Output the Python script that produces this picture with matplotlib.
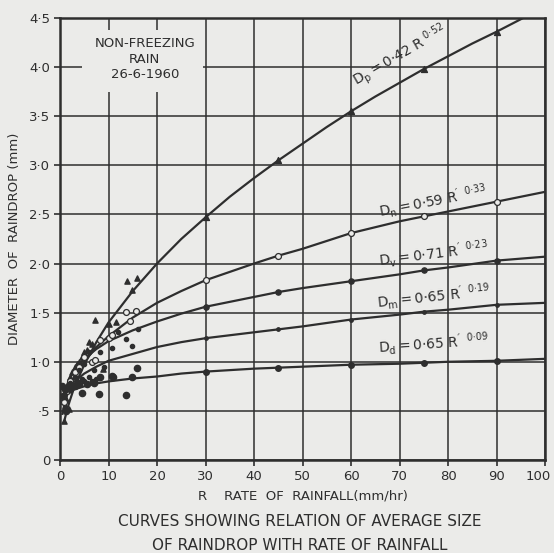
import matplotlib
matplotlib.use("Agg")
import matplotlib.pyplot as plt
from matplotlib.patches import Rectangle
from matplotlib.transforms import offset_copy

# ---------------- data ----------------
r_grid = [0.5, 1, 2, 3, 5, 7.5, 10, 15, 20, 25, 30, 40, 45, 50, 60, 70, 75, 80, 90, 100]
dn_curve = [0.47, 0.59, 0.74, 0.85, 1.00, 1.15, 1.26, 1.45, 1.60, 1.72, 1.83, 2.00, 2.08, 2.15, 2.31, 2.43, 2.48, 2.53, 2.63, 2.73]
dv_curve = [0.60, 0.71, 0.83, 0.92, 1.03, 1.13, 1.21, 1.32, 1.41, 1.49, 1.56, 1.66, 1.71, 1.75, 1.82, 1.89, 1.93, 1.96, 2.03, 2.07]
dm_curve = [0.57, 0.65, 0.74, 0.80, 0.88, 0.95, 1.01, 1.08, 1.15, 1.20, 1.24, 1.30, 1.33, 1.36, 1.43, 1.48, 1.51, 1.53, 1.58, 1.60]
dd_curve = [0.61, 0.65, 0.69, 0.72, 0.75, 0.78, 0.80, 0.83, 0.85, 0.88, 0.90, 0.93, 0.94, 0.95, 0.97, 0.98, 0.99, 1.00, 1.01, 1.03]
r_dp = [1, 1.5, 2, 3, 5, 7.5, 10, 15, 20, 25, 30, 35, 40, 45, 50, 55, 60, 65, 70, 75, 80, 85, 90, 95.5]
dp_curve = [0.42, 0.52, 0.60, 0.75, 0.97, 1.20, 1.40, 1.72, 2.00, 2.25, 2.47, 2.68, 2.87, 3.05, 3.22, 3.39, 3.55, 3.70, 3.84, 3.98, 4.11, 4.24, 4.36, 4.50]

r_marks = [30, 45, 60, 75, 90]
dp_marks = [2.47, 3.05, 3.55, 3.98, 4.36]
dn_marks = [1.83, 2.08, 2.31, 2.48, 2.63]
dv_marks = [1.56, 1.71, 1.82, 1.93, 2.03]
dm_marks = [1.24, 1.33, 1.43, 1.51, 1.58]
dd_marks = [0.90, 0.94, 0.97, 0.99, 1.01]

# observations near origin
tri_r = [13.9, 15.8, 14.8, 7.2, 10, 11.5, 6, 6.5, 5, 4, 4.5, 3, 2.5, 2, 1.5, 1, 1.3, 0.8, 1.8, 8.9, 5.5, 3.5]
tri_d = [1.82, 1.85, 1.73, 1.43, 1.38, 1.40, 1.20, 1.18, 1.10, 1.00, 1.05, 0.95, 0.90, 0.85, 0.75, 0.55, 0.62, 0.40, 0.52, 0.93, 1.12, 0.98]
oc_r = [13.6, 15.6, 14.4, 10, 10.7, 8.2, 6.7, 7.3, 0.8, 4, 3, 2, 5, 1.5]
oc_d = [1.51, 1.52, 1.42, 1.24, 1.27, 1.22, 1.00, 1.02, 0.59, 0.95, 0.90, 0.80, 1.05, 0.70]
fd_r = [13.7, 14.8, 10.7, 8.2, 12, 16, 6, 5, 4, 3, 2, 1, 7, 9, 6, 4.5, 3.5, 2.5, 1.5, 7.5, 8, 5, 6.5]
fd_d = [1.23, 1.16, 1.14, 1.10, 1.30, 1.33, 1.10, 0.98, 0.92, 0.85, 0.78, 0.70, 0.92, 0.95, 0.85, 0.82, 0.80, 0.75, 0.72, 0.82, 0.83, 0.80, 0.80]
ld_r = [4.6, 8.1, 13.6, 15.8, 14.8, 10.7, 8.2, 11, 7, 5.5, 3, 2, 4, 1, 0.5, 1.2, 0.6]
ld_d = [0.68, 0.67, 0.66, 0.94, 0.84, 0.86, 0.85, 0.85, 0.78, 0.77, 0.75, 0.72, 0.77, 0.72, 0.75, 0.50, 0.65]

x_ticks = [0, 10, 20, 30, 40, 50, 60, 70, 80, 90, 100]
y_ticks = [0, 0.5, 1.0, 1.5, 2.0, 2.5, 3.0, 3.5, 4.0, 4.5]
y_tick_labels = ["0", "·5", "1·0", "1·5", "2·0", "2·5", "3·0", "3·5", "4·0", "4·5"]

# ---------------- drawing ----------------
BG = "#ebebe9"
INK = "#2e2e2e"
plt.rcParams["font.family"] = ["DejaVu Sans"]
plt.rcParams["mathtext.fontset"] = "dejavusans"

fig = plt.figure(figsize=(5.54, 5.53), dpi=100, facecolor=BG)
ax = fig.add_axes([60/554, 93/553, 485/554, 442/553], facecolor=BG)
ax.set_xlim(0, 100)
ax.set_ylim(0, 4.5)

ax.set_xticks(x_ticks)
ax.set_yticks(y_ticks)
ax.set_yticklabels(y_tick_labels)
ax.tick_params(axis="both", colors=INK, labelsize=9.5, length=4, width=1.2, direction="out", pad=3)
ax.grid(True, color=INK, lw=1.1)
for s in ax.spines.values():
    s.set_color(INK)
    s.set_linewidth(1.8)

# keep the "100" label inside the figure
fig.canvas.draw()
last = ax.get_xticklabels()[-1]
last.set_transform(offset_copy(last.get_transform(), fig=fig, x=-7, y=0, units="dots"))

# box for the title text (covers grid)
ax.add_patch(Rectangle((4.5, 3.75), 25, 0.63, facecolor=BG, edgecolor="none", zorder=2.5))
ax.text(17.5, 4.08, "NON-FREEZING\nRAIN\n26-6-1960", ha="center", va="center",
        fontsize=9.5, color=INK, linespacing=1.25, zorder=3)

lw = 1.6
ax.plot(r_dp, dp_curve, color=INK, lw=lw, zorder=4)
ax.plot(r_grid, dn_curve, color=INK, lw=lw, zorder=4)
ax.plot(r_grid, dv_curve, color=INK, lw=lw, zorder=4)
ax.plot(r_grid, dm_curve, color=INK, lw=lw, zorder=4)
ax.plot(r_grid, dd_curve, color=INK, lw=lw, zorder=4)

ax.scatter(r_marks, dp_marks, marker="^", s=18, color=INK, zorder=5)
ax.scatter(r_marks, dn_marks, marker="o", s=18, facecolor=BG, edgecolor=INK, linewidth=0.9, zorder=5)
ax.scatter(r_marks, dv_marks, marker="o", s=14, color=INK, zorder=5)
ax.scatter(r_marks, dm_marks, marker="o", s=6, color=INK, zorder=5)
ax.scatter(r_marks, dd_marks, marker="o", s=16, color=INK, zorder=5)

ax.scatter(tri_r, tri_d, marker="^", s=14, color=INK, zorder=5)
ax.scatter(oc_r, oc_d, marker="o", s=18, facecolor=BG, edgecolor=INK, linewidth=0.9, zorder=5)
ax.scatter(fd_r, fd_d, marker="o", s=9, color=INK, zorder=5)
ax.scatter(ld_r, ld_d, marker="o", s=20, color=INK, zorder=5)

eq_kw = dict(color=INK, fontsize=10, ha="center", va="center", zorder=6)
ax.text(70, 4.12, r"$\mathregular{D_p = 0·42\ R^{\ 0·52}}$", rotation=30, **eq_kw)
ax.text(77, 2.63, r"$\mathregular{D_n = 0·59\ R^{\prime\ \ 0·33}}$", rotation=11, **eq_kw)
ax.text(77, 2.10, r"$\mathregular{D_v = 0·71\ R^{\prime\ \ 0·23}}$", rotation=7, **eq_kw)
ax.text(77, 1.66, r"$\mathregular{D_m = 0·65\ R^{\prime\ \ 0·19}}$", rotation=6, **eq_kw)
ax.text(77, 1.18, r"$\mathregular{D_d = 0·65\ R^{\prime\ \ 0·09}}$", rotation=4, **eq_kw)

ax.set_ylabel("DIAMETER  OF  RAINDROP (mm)", fontsize=9.5, color=INK, labelpad=6)
ax.set_xlabel("R    RATE  OF  RAINFALL(mm/hr)", fontsize=9.5, color=INK, labelpad=5)

fig.text(300/554, 1 - 522/553, "CURVES SHOWING RELATION OF AVERAGE SIZE",
         ha="center", va="center", fontsize=11, color=INK)
fig.text(300/554, 1 - 545/553, "OF RAINDROP WITH RATE OF RAINFALL",
         ha="center", va="center", fontsize=11, color=INK)

fig.savefig("out.png", dpi=100, facecolor=BG)
